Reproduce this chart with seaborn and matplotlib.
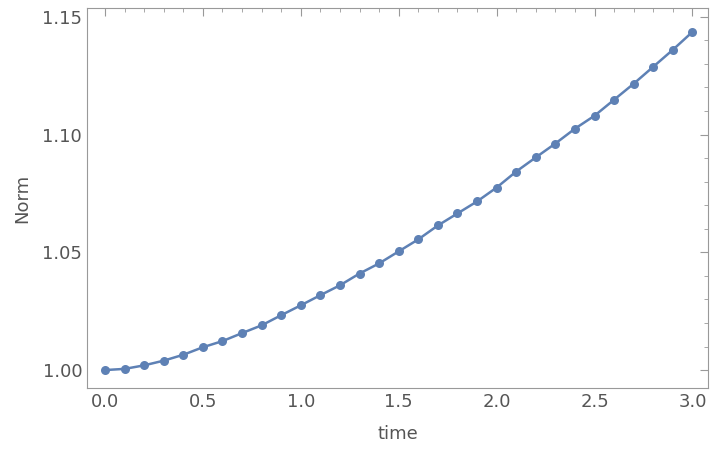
import numpy as np
import matplotlib
matplotlib.use('Agg')
import matplotlib.pyplot as plt
import matplotlib.ticker as mticker
import seaborn as sns
import pandas as pd

time = [0.0, 0.1, 0.2, 0.3, 0.4, 0.5, 0.6, 0.7, 0.8, 0.9, 1.0, 1.1, 1.2, 1.3, 1.4, 1.5,
        1.6, 1.7, 1.8, 1.9, 2.0, 2.1, 2.2, 2.3, 2.4, 2.5, 2.6, 2.7, 2.8, 2.9, 3.0]
norm = [1.0000, 1.0005, 1.0020, 1.0040, 1.0065, 1.0097, 1.0123, 1.0157, 1.0190, 1.0233,
        1.0275, 1.0318, 1.0360, 1.0410, 1.0453, 1.0504, 1.0555, 1.0614, 1.0665, 1.0716,
        1.0775, 1.0843, 1.0903, 1.0962, 1.1025, 1.1080, 1.1148, 1.1216, 1.1288, 1.1360,
        1.1436]

sns.set_theme(style="white")
plt.rcParams['font.family'] = ['DejaVu Sans']

df = pd.DataFrame({'time': time, 'Norm': norm})
color = '#5E81B5'
text_color = '#555555'

fig = plt.figure(figsize=(7.16, 4.62), dpi=100)
ax = fig.add_axes([0.1215, 0.16, 0.8675, 0.823])
sns.lineplot(data=df, x='time', y='Norm', ax=ax, color=color, linewidth=1.8,
             marker='o', markersize=6.5, markeredgewidth=0, markerfacecolor=color)

ax.set_xlim(-0.092, 3.08)
ax.set_ylim(0.99235, 1.1538)
ax.xaxis.set_major_locator(mticker.MultipleLocator(0.5))
ax.xaxis.set_minor_locator(mticker.MultipleLocator(0.1))
ax.yaxis.set_major_locator(mticker.MultipleLocator(0.05))
ax.yaxis.set_minor_locator(mticker.MultipleLocator(0.01))
ax.xaxis.set_major_formatter(mticker.FormatStrFormatter('%.1f'))
ax.yaxis.set_major_formatter(mticker.FormatStrFormatter('%.2f'))
ax.tick_params(which='both', direction='in', top=True, right=True, colors='#999999',
               labelcolor=text_color, labelsize=13)
ax.tick_params(which='major', length=6, width=0.8)
ax.tick_params(which='minor', length=3, width=0.6)
for s in ax.spines.values():
    s.set_color('#999999')
    s.set_linewidth(0.8)
ax.set_xlabel('time', fontsize=13, color=text_color, labelpad=10)
ax.set_ylabel('Norm', fontsize=13, color=text_color, labelpad=8)

fig.savefig('out.png', dpi=100, facecolor='white')
